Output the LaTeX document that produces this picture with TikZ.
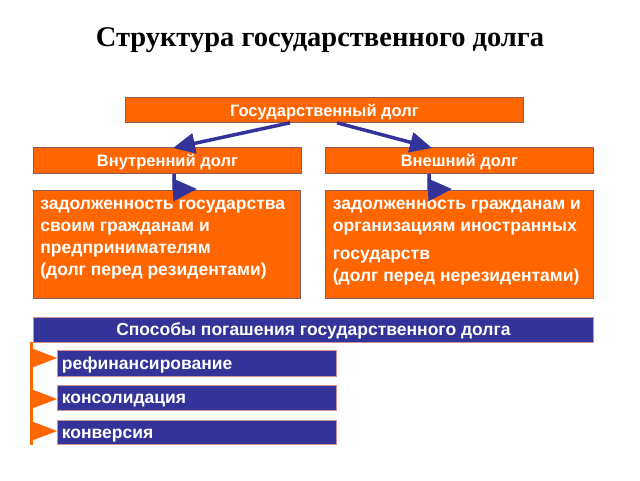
\documentclass[tikz,border=0pt]{standalone}
\usepackage{fontspec}
\setmainfont{Liberation Sans}
\newfontfamily\titlefont{Liberation Serif}
\usetikzlibrary{arrows.meta,calc}
\definecolor{org}{HTML}{FF6600}
\definecolor{nvy}{HTML}{333399}
\definecolor{obord}{HTML}{8C5A5A}
\definecolor{nbord}{HTML}{D09090}
\tikzset{
  obox/.style={draw=obord, line width=0.8pt, fill=org, text=white, font=\bfseries\fontsize{16.5}{19}\selectfont, inner sep=0pt, text height=15pt, text depth=2pt, anchor=north west},
  nbox/.style={draw=nbord, line width=0.8pt, fill=nvy, text=white, font=\bfseries\fontsize{17.5}{20}\selectfont, inner sep=0pt, text height=15pt, text depth=3pt, anchor=north west},
  tbox/.style={draw=obord, line width=0.8pt, fill=org, text=white, font=\bfseries\fontsize{17.5}{22}\selectfont, inner sep=0pt, anchor=north west},
  barrow/.style={draw=nvy, line width=3.5pt, -{Triangle[length=22pt,width=20pt]}},
  elbow/.style={draw=nvy, line width=3.5pt, -{Triangle[length=24pt,width=22pt]}},
  oarrow/.style={draw=org, line width=0.5pt, -{Triangle[length=25pt,width=19pt]}},
  oline/.style={draw=org, line width=3pt}
}
\begin{document}
\begin{tikzpicture}[x=1pt,y=-1pt]
\useasboundingbox (0,0) rectangle (640,480);
\node[font=\titlefont\bfseries\fontsize{28.5}{32}\selectfont] (title) at (320,40) {Структура государственного долга};

\node[obox, minimum width=398pt, minimum height=25pt] (gd) at (125,97) {Государственный долг};
\node[obox, minimum width=268pt, minimum height=26pt] (vn) at (33,147) {Внутренний долг};
\node[obox, minimum width=268pt, minimum height=26pt] (vs) at (325,147) {Внешний долг};

\node[tbox, minimum width=267pt, minimum height=108pt] (lt) at (33,190) {\parbox[t][104pt][t]{253pt}{\vspace{8pt}задолженность государства\\своим гражданам и\\предпринимателям\\(долг перед резидентами)}};
\node[tbox, minimum width=268pt, minimum height=108pt] (rt) at (325,190) {\parbox[t][104pt][t]{253pt}{\vspace{8pt}задолженность гражданам и\\организациям иностранных\\[6pt]государств\\(долг перед нерезидентами)}};

\node[nbox, minimum width=560pt, minimum height=25pt] (sp) at (33,317) {Способы погашения государственного долга};
\node[nbox, minimum width=279pt, minimum height=26pt] (b1) at (57,350) {\makebox[270pt][l]{рефинансирование}};
\node[nbox, minimum width=279pt, minimum height=25pt] (b2) at (57,385) {\makebox[270pt][l]{консолидация}};
\node[nbox, minimum width=279pt, minimum height=24pt] (b3) at (57,420) {\makebox[270pt][l]{конверсия}};

% arrows from the main box
\draw[barrow] ($(gd.south west)+(165,0)$) -- ($(vn.north west)+(140,1)$);
\draw[barrow] ($(gd.south west)+(212,0)$) -- ($(vs.north west)+(107,1)$);

% elbow arrows
\coordinate (e1) at ($(vn.south west)+(141,16)$);
\coordinate (e2) at ($(vs.south west)+(104,16)$);
\draw[elbow] ($(vn.south west)+(141,0)$) -- (e1) -- ($(lt.north west)+(164,-1)$);
\draw[elbow] ($(vs.south west)+(104,0)$) -- (e2) -- ($(rt.north west)+(127,-1)$);

% bracket
\coordinate (k0) at (31,342);
\coordinate (k1) at (31,445);
\coordinate (t1) at (32,358);
\coordinate (t2) at (32,399);
\coordinate (t3) at (32,431);
\draw[oline] (k0) -- (k1);
\draw[oarrow] (t1) -- (b1.west |- t1);
\draw[oarrow] (t2) -- (b2.west |- t2);
\draw[oarrow] (t3) -- (b3.west |- t3);
\end{tikzpicture}
\end{document}
